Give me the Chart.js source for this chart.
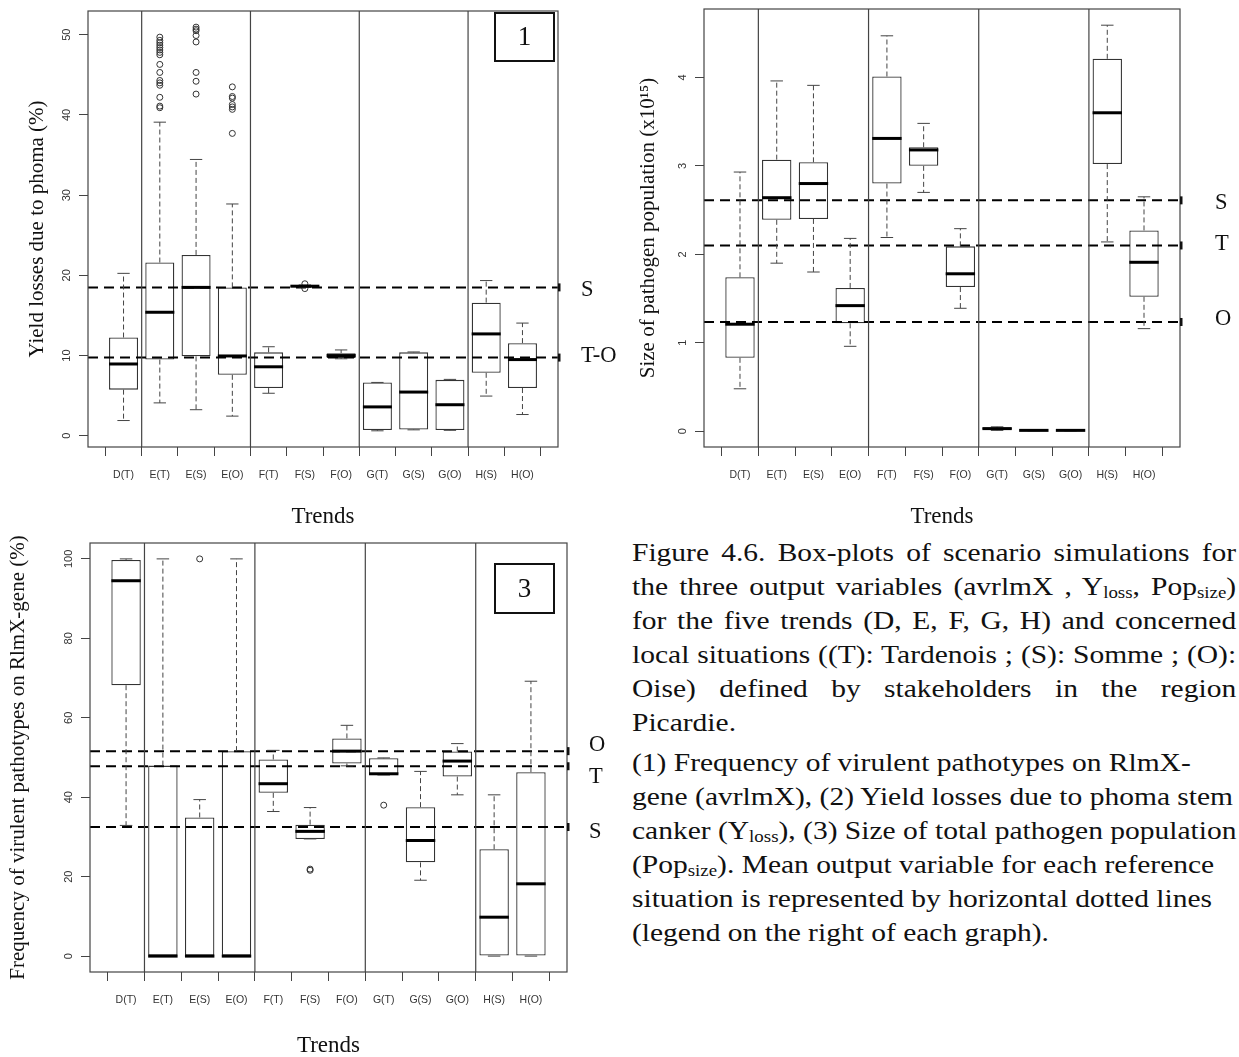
<!DOCTYPE html>
<html>
<head>
<meta charset="utf-8">
<script src="https://cdn.jsdelivr.net/npm/chart.js@4"></script>
<style>
  body { margin: 0; background: #fff; width: 1239px; height: 1057px; position: relative; overflow: hidden; }
  canvas { position: absolute; }
  #caption {
    position: absolute; left: 632px; top: 536px; width: 512px;
    font-family: "Liberation Serif", "Times New Roman", serif; font-size: 25px; line-height: 34px; color: #111;
    transform: scaleX(1.18); transform-origin: 0 0;
  }
  #caption div { white-space: nowrap; }
  #caption .j { text-align: justify; text-align-last: justify; }
  #caption .gap { margin-top: 6px; }
  #caption sub { font-size: 0.64em; vertical-align: -0.2em; line-height: 0; }
</style>
</head>
<body>
<canvas id="chart1" width="620" height="529" style="left:0;top:0"></canvas>
<canvas id="chart2" width="619" height="529" style="left:620px;top:0"></canvas>
<canvas id="chart3" width="620" height="527" style="left:0;top:530px"></canvas>

<div id="caption">
  <div class="j">Figure 4.6. Box-plots of scenario simulations for</div>
  <div class="j">the three output variables (avrlmX , Y<sub>loss</sub>, Pop<sub>size</sub>)</div>
  <div class="j">for the five trends (D, E, F, G, H) and concerned</div>
  <div class="j">local situations ((T): Tardenois ; (S): Somme ; (O):</div>
  <div class="j">Oise) defined by stakeholders in the region</div>
  <div>Picardie.</div>
  <div class="gap">(1) Frequency of virulent pathotypes on RlmX-</div>
  <div>gene (avrlmX), (2) Yield losses due to phoma stem</div>
  <div>canker (Y<sub>loss</sub>), (3) Size of total pathogen population</div>
  <div>(Pop<sub>size</sub>). Mean output variable for each reference</div>
  <div>situation is represented by horizontal dotted lines</div>
  <div>(legend on the right of each graph).</div>
</div>

<script>
const categories = ['D(T)', 'E(T)', 'E(S)', 'E(O)', 'F(T)', 'F(S)', 'F(O)', 'G(T)', 'G(S)', 'G(O)', 'H(S)', 'H(O)'];
const trendBreaks = [1.5, 4.5, 7.5, 10.5];

// yield losses due to phoma (%)
const yieldLow  = [1.9, 4.1, 3.25, 2.45, 5.3, 18.5, 9.6, 0.62, 0.74, 0.68, 4.95, 2.65];
const yieldQ1   = [5.75, 9.5, 9.9, 7.6, 5.95, 18.58, 9.7, 0.71, 0.79, 0.71, 7.85, 5.95];
const yieldMed  = [8.95, 15.4, 18.5, 9.95, 8.6, 18.65, 10.0, 3.6, 5.45, 3.87, 12.7, 9.5];
const yieldQ3   = [12.25, 21.6, 22.55, 18.5, 10.4, 18.72, 10.3, 6.65, 10.4, 6.97, 16.6, 11.55];
const yieldHigh = [20.25, 39.1, 34.45, 28.9, 11.1, 18.8, 10.7, 6.65, 10.45, 7.03, 19.35, 14.05];
const yieldOutliers = [
  [],
  [49.7, 49.3, 49.0, 48.7, 48.4, 48.1, 47.8, 47.5, 46.3, 45.3, 44.3, 44.0, 43.7, 42.2, 41.1, 40.9],
  [50.95, 50.7, 50.5, 49.9, 49.1, 45.3, 44.2, 42.6],
  [43.5, 42.3, 42.1, 41.3, 41.0, 40.7, 37.7],
  [], [18.95, 18.35], [], [], [], [], [], []
];
const yieldTicks = [0, 10, 20, 30, 40, 50];
const yieldRefValues = [18.5, 9.75];
const yieldRefLabels = ['S', 'T-O'];

// size of pathogen population (x10^15)
const popLow  = [0.48, 1.90, 1.80, 0.96, 2.19, 2.70, 1.39, 0.01, 0.005, 0.005, 2.14, 1.16];
const popQ1   = [0.83, 2.39, 2.40, 1.22, 2.80, 3.00, 1.63, 0.02, 0.008, 0.008, 3.02, 1.52];
const popMed  = [1.21, 2.64, 2.80, 1.42, 3.31, 3.18, 1.78, 0.03, 0.01, 0.01, 3.60, 1.91];
const popQ3   = [1.74, 3.07, 3.04, 1.62, 4.01, 3.21, 2.09, 0.04, 0.012, 0.012, 4.21, 2.27];
const popHigh = [2.93, 3.96, 3.91, 2.18, 4.47, 3.48, 2.29, 0.05, 0.015, 0.015, 4.59, 2.65];
const popOutliers = [[], [], [], [], [], [], [], [], [], [], [], []];
const popTicks = [0, 1, 2, 3, 4];
const popRefValues = [2.61, 2.10, 1.235];
const popRefLabels = ['S', 'T', 'O'];

// frequency of virulent pathotypes on RlmX-gene (%)
const freqLow  = [32.9, 0, 0, 0, 36.4, 29.5, 47.9, 45.6, 19.1, 40.6, 0, 0];
const freqQ1   = [68.2, 0, 0, 0, 41.1, 29.5, 48.5, 45.7, 23.6, 45.2, 0, 0];
const freqMed  = [94.5, 0, 0, 0, 43.4, 31.4, 51.6, 45.9, 29.1, 49.1, 9.8, 18.2];
const freqQ3   = [99.75, 47.96, 34.9, 51.6, 49.5, 33.1, 54.8, 49.8, 37.5, 51.5, 26.9, 46.3];
const freqHigh = [100, 100, 39.4, 100, 51.8, 37.4, 58.1, 49.9, 46.5, 53.5, 40.6, 69.2];
const freqOutliers = [[], [], [100], [], [], [21.6, 21.9], [], [38.0], [], [], [], []];
const freqTicks = [0, 20, 40, 60, 80, 100];
const freqRefValues = [51.6, 47.8, 32.5];
const freqRefLabels = ['O', 'T', 'S'];

const serif = '"Liberation Serif", "Times New Roman", serif';
const sans = '"Liberation Sans", Arial, sans-serif';

function boxPanel(canvasId, p) {
  const n = categories.length;
  const xMin = 0.02, xMax = n + 0.98;

  const boxes = categories.map((c, i) => ({ x: i + 1, y: [p.q1[i], p.q3[i]] }));
  const points = [];
  p.outliers.forEach((list, i) => list.forEach(v => points.push({ x: i + 1, y: v })));

  const datasets = [{
    type: 'bar',
    data: boxes,
    backgroundColor: '#fff',
    borderColor: '#333',
    borderWidth: 1.3,
    borderSkipped: false,
    barPercentage: 0.8,
    categoryPercentage: 1,
    order: 3
  }, {
    type: 'scatter',
    data: points,
    pointStyle: 'circle',
    pointRadius: 3,
    borderWidth: 1,
    borderColor: '#333',
    backgroundColor: 'rgba(0,0,0,0)',
    order: 2
  }];
  p.refValues.forEach(v => datasets.push({
    type: 'line',
    data: [{ x: xMin, y: v }, { x: xMax, y: v }],
    borderColor: '#000',
    borderWidth: 2,
    borderDash: [10, 6],
    pointRadius: 0,
    order: 1
  }));

  const extras = {
    id: 'boxExtras',
    afterDatasetsDraw(chart) {
      const { ctx, chartArea: a, scales: { x, y } } = chart;
      ctx.save();

      // whiskers, staples and medians
      categories.forEach((c, i) => {
        const cx = x.getPixelForValue(i + 1);
        const half = x.getPixelForValue(i + 1.4) - cx;
        const staple = x.getPixelForValue(i + 1.17) - cx;
        const yLow = y.getPixelForValue(p.low[i]);
        const yQ1 = y.getPixelForValue(p.q1[i]);
        const yMed = y.getPixelForValue(p.med[i]);
        const yQ3 = y.getPixelForValue(p.q3[i]);
        const yHigh = y.getPixelForValue(p.high[i]);

        ctx.strokeStyle = '#444';
        ctx.lineWidth = 1;
        ctx.setLineDash([5, 3]);
        ctx.beginPath();
        ctx.moveTo(cx, yQ3); ctx.lineTo(cx, yHigh);
        ctx.moveTo(cx, yQ1); ctx.lineTo(cx, yLow);
        ctx.stroke();
        ctx.setLineDash([]);
        ctx.beginPath();
        ctx.moveTo(cx - staple, yHigh); ctx.lineTo(cx + staple, yHigh);
        ctx.moveTo(cx - staple, yLow); ctx.lineTo(cx + staple, yLow);
        ctx.stroke();

        ctx.strokeStyle = '#000';
        ctx.lineWidth = 3;
        ctx.beginPath();
        ctx.moveTo(cx - half, yMed); ctx.lineTo(cx + half, yMed);
        ctx.stroke();
      });

      // trend separators and frame
      ctx.strokeStyle = '#444';
      ctx.lineWidth = 1.2;
      trendBreaks.forEach(b => {
        const bx = x.getPixelForValue(b);
        ctx.beginPath(); ctx.moveTo(bx, a.top); ctx.lineTo(bx, a.bottom); ctx.stroke();
      });
      ctx.strokeRect(a.left, a.top, a.right - a.left, a.bottom - a.top);

      // reference line legend on the right
      ctx.fillStyle = '#111';
      ctx.font = '22.5px ' + serif;
      ctx.textAlign = 'left';
      ctx.textBaseline = 'middle';
      p.refValues.forEach((v, k) => {
        const yv = y.getPixelForValue(v);
        ctx.fillRect(a.right, yv - 4, 2.5, 8);
        ctx.fillText(p.refLabels[k], a.right + p.labelDx, yv + p.labelDy[k]);
      });

      // rotated y tick labels (R style)
      ctx.fillStyle = '#333';
      ctx.font = '11px ' + sans;
      ctx.textAlign = 'center';
      p.ticks.forEach(t => {
        ctx.save();
        ctx.translate(a.left - 21.5, y.getPixelForValue(t));
        ctx.rotate(-Math.PI / 2);
        ctx.fillText(String(t), 0, 0);
        ctx.restore();
      });

      // panel number
      if (p.panel) {
        const bx = a.right - p.panel.right - p.panel.w;
        const by = a.top + p.panel.top;
        ctx.strokeStyle = '#111';
        ctx.lineWidth = 2;
        ctx.strokeRect(bx, by, p.panel.w, p.panel.h);
        ctx.fillStyle = '#111';
        ctx.font = '27px ' + serif;
        ctx.textAlign = 'center';
        ctx.fillText(p.panel.text, bx + p.panel.w / 2, by + p.panel.h / 2 + 1);
      }
      ctx.restore();
    }
  };

  return new Chart(document.getElementById(canvasId), {
    type: 'bar',
    data: { datasets },
    plugins: [extras],
    options: {
      responsive: false,
      animation: false,
      layout: { padding: { top: p.padTop, right: p.padRight, left: 0, bottom: 0 } },
      plugins: { legend: { display: false }, tooltip: { enabled: false } },
      scales: {
        x: {
          type: 'linear',
          min: xMin,
          max: xMax,
          offset: false,
          afterBuildTicks: s => { s.ticks = categories.map((c, i) => ({ value: i + 1 })); },
          afterFit: s => { s.height = p.xAxisH; },
          ticks: {
            callback: v => categories[v - 1],
            autoSkip: false, maxRotation: 0, minRotation: 0,
            padding: 13, color: '#333',
            font: { family: sans, size: 10.5 }
          },
          grid: { drawOnChartArea: false, drawTicks: true, tickLength: 9, color: '#444', lineWidth: 1 },
          border: { display: false },
          title: {
            display: true, text: 'Trends', color: '#111',
            font: { family: serif, size: 23, lineHeight: 1 },
            padding: { top: 0, bottom: p.xTitlePad }
          }
        },
        y: {
          min: p.yMin,
          max: p.yMax,
          afterBuildTicks: s => { s.ticks = p.ticks.map(v => ({ value: v })); },
          afterFit: s => { s.width = p.yAxisW; },
          ticks: { display: false },
          grid: { drawOnChartArea: false, drawTicks: true, tickLength: 9, color: '#444', lineWidth: 1 },
          border: { display: false },
          title: {
            display: true, text: p.yTitle, color: '#111',
            font: { family: serif, size: 21, lineHeight: 1 },
            padding: { top: p.yTitlePad, bottom: 0 }
          }
        }
      }
    }
  });
}

boxPanel('chart1', {
  low: yieldLow, q1: yieldQ1, med: yieldMed, q3: yieldQ3, high: yieldHigh, outliers: yieldOutliers,
  ticks: yieldTicks, refValues: yieldRefValues, refLabels: yieldRefLabels,
  yMin: -1.4, yMax: 52.96, yTitle: 'Yield losses due to phoma (%)',
  padTop: 11, padRight: 62, yAxisW: 88, xAxisH: 82, yTitlePad: 26.5, xTitlePad: 0.5,
  labelDx: 23, labelDy: [3, -1],
  panel: { text: '1', right: 4, top: 2, w: 59, h: 48 }
});

boxPanel('chart2', {
  low: popLow, q1: popQ1, med: popMed, q3: popQ3, high: popHigh, outliers: popOutliers,
  ticks: popTicks, refValues: popRefValues, refLabels: popRefLabels,
  yMin: -0.178, yMax: 4.773, yTitle: 'Size of pathogen population (x10\u00B9\u2075)',
  padTop: 9, padRight: 59, yAxisW: 84, xAxisH: 82, yTitlePad: 17.5, xTitlePad: 0.5,
  labelDx: 35, labelDy: [3, -1, -3],
  panel: null
});

boxPanel('chart3', {
  low: freqLow, q1: freqQ1, med: freqMed, q3: freqQ3, high: freqHigh, outliers: freqOutliers,
  ticks: freqTicks, refValues: freqRefValues, refLabels: freqRefLabels,
  yMin: -4, yMax: 104, yTitle: 'Frequency of virulent pathotypes on RlmX-gene (%)',
  padTop: 13, padRight: 53, yAxisW: 90, xAxisH: 85, yTitlePad: 7.5, xTitlePad: 0,
  labelDx: 22, labelDy: [-6, 11, 5],
  panel: { text: '3', right: 13, top: 21, w: 59, h: 49 }
});
</script>
</body>
</html>
